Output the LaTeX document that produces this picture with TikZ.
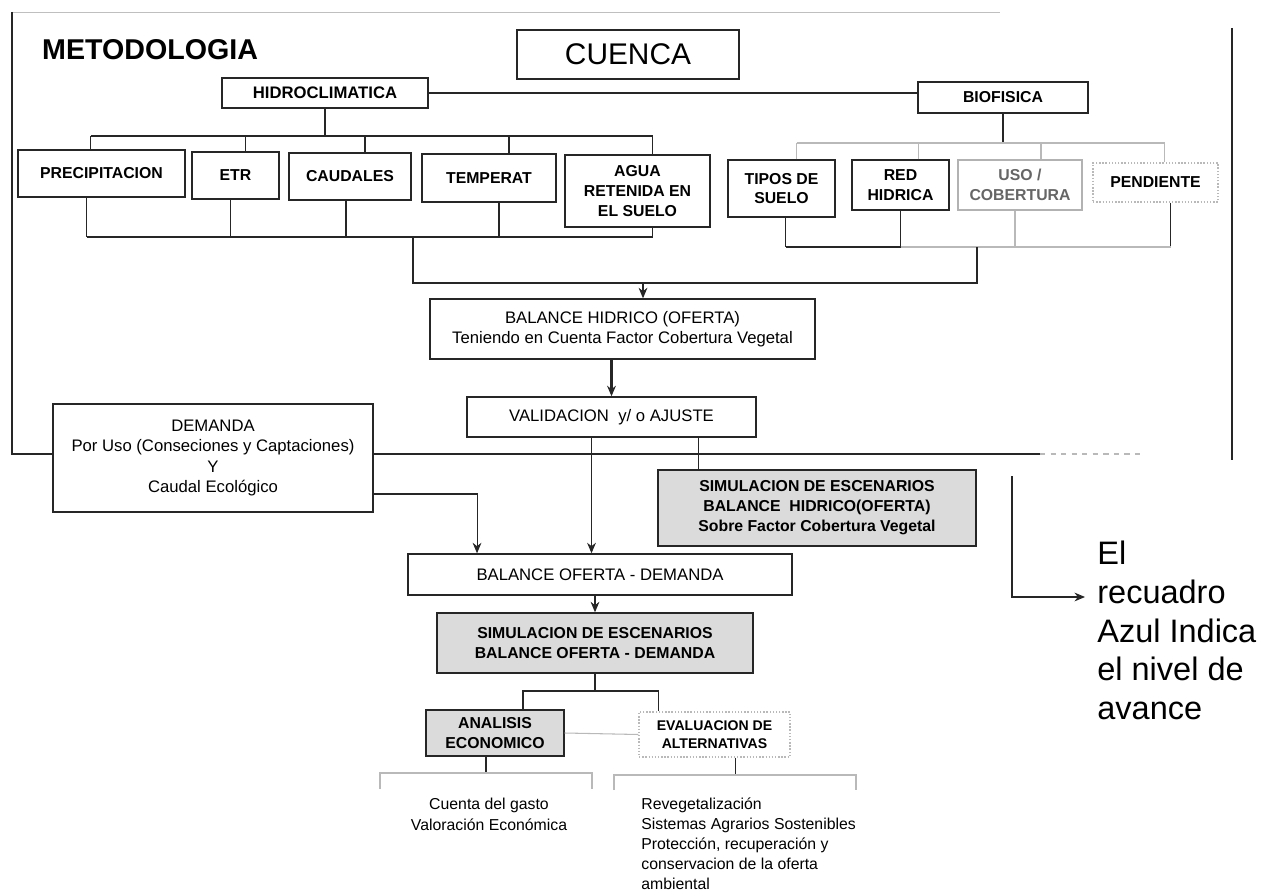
\documentclass[tikz,border=0pt]{standalone}
\usepackage{fontspec}
\setmainfont{Liberation Sans}
\usetikzlibrary{ % tikz packages
    positioning,
    arrows.meta
}
\newcommand{\plaintxt}{\fontsize{9.5}{11.5}\selectfont}
\newcommand{\boldtxt}{\fontsize{9}{11.3}\selectfont\bfseries}
\tikzset{>={Stealth[length=6pt,width=5pt]}}
\tikzset{
    box/.style={draw=black!85, line width=0.8pt, fill=white, inner sep=1pt,
        align=center, font=\plaintxt},
    hbox/.style={box, font=\boldtxt},
    simbox/.style={hbox, fill=gray!28},
    faintbox/.style={hbox, draw=gray!55, densely dotted},
    link/.style={draw=black!85, line width=0.6pt},
    faint/.style={draw=gray!55, line width=0.6pt},
    flow/.style={link, ->}
}

\begin{document}
\begin{tikzpicture}[x=0.02cm,y=-0.02cm]
        \useasboundingbox (0,0) rectangle (1271,895);

        % marco
        \draw[gray!50, line width=0.5pt] (12,12) -- (1000,12);
        \draw[link, line width=0.7pt] (12,12) -- (12,454) -- (1040,454);
        \draw[faint, dashed] (1040,454) -- (1140,454);
        \draw[link, line width=0.7pt] (1232,28) -- (1232,460);

        \node[anchor=west, font=\fontsize{16.3}{19}\selectfont\bfseries] (metod) at (36,50) {METODOLOGIA};
        \node[box, minimum width=4.44cm, minimum height=0.98cm, font=\fontsize{17}{20}\selectfont] (cuenca) at (628,54.5) {CUENCA};

        \node[hbox, minimum width=4.12cm, minimum height=0.6cm, font=\fontsize{9.5}{11}\selectfont\bfseries] (hidro) at (325,93) {HIDROCLIMATICA};
        \node[hbox, minimum width=3.4cm, minimum height=0.62cm] (bio) at (1003,97.5) {BIOFISICA};

        \node[hbox, minimum width=3.34cm, minimum height=0.94cm] (precip) at (101.5,173.5) {PRECIPITACION};
        \node[hbox, minimum width=1.74cm, minimum height=0.94cm] (etr) at (235.5,175.5) {ETR};
        \node[hbox, minimum width=2.44cm, minimum height=0.94cm] (caud) at (350,176.5) {CAUDALES};
        \node[hbox, minimum width=2.68cm, minimum height=0.96cm] (temp) at (489,178) {TEMPERAT};
        \node[hbox, minimum width=2.9cm, minimum height=1.44cm] (agua) at (637.5,191) {AGUA\\RETENIDA EN\\EL SUELO};

        \node[hbox, minimum width=2.14cm, minimum height=1.14cm] (tipos) at (781.5,188.5) {TIPOS DE\\SUELO};
        \node[hbox, minimum width=1.94cm, minimum height=1.0cm] (red) at (900.5,185) {RED\\HIDRICA};
        \node[hbox, draw=gray!60, text=gray!80!black, minimum width=2.48cm, minimum height=1.0cm] (uso) at (1020,185) {USO /\\COBERTURA};
        \node[faintbox, minimum width=2.5cm, minimum height=0.78cm] (pend) at (1155.5,182.5) {PENDIENTE};

        \node[box, minimum width=7.7cm, minimum height=1.2cm] (bhid) at (622.5,329) {BALANCE HIDRICO (OFERTA)\\Teniendo en Cuenta Factor Cobertura Vegetal};
        \node[box, minimum width=5.78cm, minimum height=0.8cm] (valid) at (611.5,417) {VALIDACION\ \ y/ o AJUSTE};
        \node[simbox, minimum width=6.36cm, minimum height=1.52cm] (sim1) at (817,508) {SIMULACION DE ESCENARIOS\\BALANCE\ \ HIDRICO(OFERTA)\\Sobre Factor Cobertura Vegetal};
        \node[box, minimum width=6.4cm, minimum height=2.16cm] (dem) at (213,458) {DEMANDA\\Por Uso (Conseciones y Captaciones)\\Y\\Caudal Ecológico};

        \node[box, minimum width=7.68cm, minimum height=0.82cm] (bod) at (600,574.5) {BALANCE OFERTA - DEMANDA};
        \node[simbox, minimum width=6.32cm, minimum height=1.2cm] (sim2) at (595,643) {SIMULACION DE ESCENARIOS\\BALANCE OFERTA - DEMANDA};
        \node[simbox, minimum width=2.76cm, minimum height=0.92cm] (anal) at (495,733) {ANALISIS\\ECONOMICO};
        \node[faintbox, minimum width=3.02cm, minimum height=0.9cm, font=\fontsize{8}{10.5}\selectfont\bfseries] (eval) at (714.5,734.5) {EVALUACION DE\\ALTERNATIVAS};

        \node[align=center, inner sep=0pt, font=\fontsize{9}{11.8}\selectfont] (gasto) at (489,814) {Cuenta del gasto\\Valoración Económica};
        \node[anchor=north west, align=left, inner sep=0pt, font=\fontsize{9}{11.5}\selectfont] (alt) at (641,797) {Revegetalización\\Sistemas Agrarios Sostenibles\\Protección, recuperación y\\conservacion de la oferta\\ambiental};

        \node[anchor=north west, align=left, inner sep=0pt, font=\fontsize{18.5}{22}\selectfont] (nota) at (1097,541) {El\\recuadro\\Azul Indica\\el nivel de\\avance};

        % hidroclimatica
        \coordinate (hbus) at (346,136);
        \draw[link] (hidro.east) -- (hidro.east -| bio.west);
        \draw[link] (hidro.south) -- (hidro.south |- hbus);
        \foreach \n/\dx in {precip/-11,etr/10,caud/15,temp/20,agua/15}{
            \coordinate (t\n) at ([xshift=\dx*0.02cm]\n.north);
            \draw[link] (t\n) -- (t\n |- hbus);
        }
        \draw[link] (tprecip |- hbus) -- (tagua |- hbus);

        \coordinate (lbus) at (413,237);
        \foreach \n/\dx in {precip/-15,etr/-5,caud/-4,temp/10,agua/15}{
            \coordinate (b\n) at ([xshift=\dx*0.02cm]\n.south);
            \draw[link] (b\n) -- (b\n |- lbus);
        }
        \draw[link] (bprecip |- lbus) -- (bagua |- lbus);

        % biofisica
        \coordinate (rtop) at (1011,143);
        \coordinate (rbot) at (977,247);
        \draw[link] (bio.south) -- (bio.south |- rtop);
        \foreach \n/\dx in {tipos/15,red/18,uso/21,pend/9}{
            \coordinate (t\n) at ([xshift=\dx*0.02cm]\n.north);
            \draw[faint] (t\n) -- (t\n |- rtop);
        }
        \draw[faint] (ttipos |- rtop) -- (tpend |- rtop);
        \foreach \n/\dx/\s in {tipos/4/link,red/0/link,uso/-5/faint,pend/15/link}{
            \coordinate (b\n) at ([xshift=\dx*0.02cm]\n.south);
            \draw[\s] (b\n) -- (b\n |- rbot);
        }
        \draw[link] (btipos |- rbot) -- (bred |- rbot);
        \draw[faint] (bred |- rbot) -- (bpend |- rbot);

        \coordinate (join) at (643,283);
        \draw[link] (lbus) |- (join) -| (rbot);
        \draw[flow] (join) -- (join |- bhid.north);

        % balance
        \draw[flow, line width=1.2pt] (valid.north |- bhid.south) -- (valid.north);
        \coordinate (v1) at ([xshift=-0.4cm]valid.south);
        \draw[flow] (v1) -- (v1 |- bod.north);
        \coordinate (v2) at ([xshift=1.74cm]valid.south);
        \draw[link] (v2) -- (v2 |- sim1.north);
        \coordinate (d1) at ([yshift=-0.72cm]dem.east);
        \coordinate (d2) at ([xshift=-2.46cm]bod.north);
        \draw[flow] (d1) -| (d2);
        \draw[flow] (sim2.north |- bod.south) -- (sim2.north);

        % alternativas
        \coordinate (sbus) at (590,691);
        \draw[link] (sim2.south) -- (sim2.south |- sbus);
        \coordinate (ta) at ([xshift=0.56cm]anal.north);
        \coordinate (te) at ([xshift=-1.12cm]eval.north);
        \draw[link] (ta) |- (sbus) -| (te);
        \draw[faint] (anal.east) -- (eval.west);

        \coordinate (ga) at ([xshift=-0.18cm]anal.south);
        \coordinate (ea) at ([xshift=0.42cm]eval.south);
        \draw[link] (ga) -- (ga |- 0,773);
        \draw[faint] (380,789) -- (380,773) -- (592,773) -- (592,789);
        \draw[link] (ea) -- (ea |- 0,775);
        \draw[faint] (614,790) -- (614,775) -- (856,775) -- (856,790);

        % nota
        \coordinate (lstart) at (1012,476);
        \coordinate (lend) at (1085,597);
        \draw[flow] (lstart) |- (lend);
    \end{tikzpicture}
\end{document}
